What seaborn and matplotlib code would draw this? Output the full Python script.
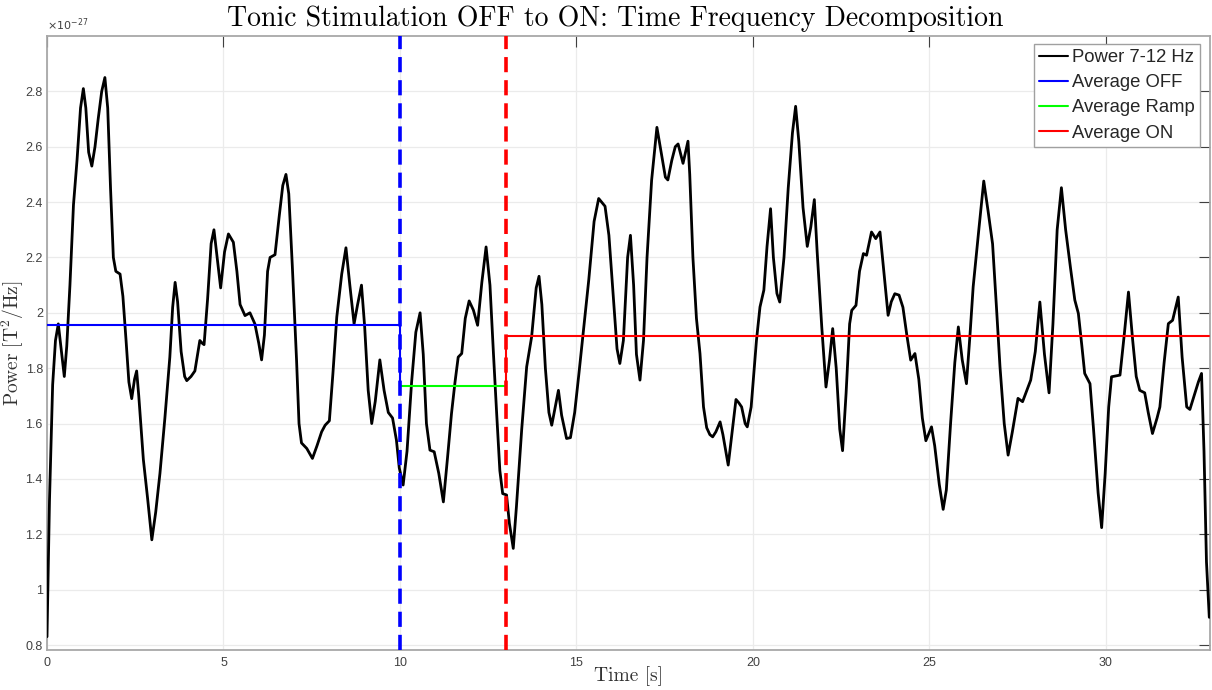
import matplotlib
matplotlib.use("Agg")
import numpy as np
import pandas as pd
import matplotlib.pyplot as plt
import seaborn as sns
from matplotlib.ticker import FuncFormatter

# ---------------- data (power in units of 1e-27 T^2/Hz) ----------------
time_s = [
    0.00, 0.07, 0.16, 0.24, 0.32, 0.40, 0.49, 0.56, 0.65, 0.75, 0.85, 0.95, 1.03, 1.10, 1.18, 1.27,
    1.36, 1.45, 1.55, 1.64, 1.72, 1.80, 1.88, 1.95, 2.07, 2.15, 2.24, 2.32, 2.40, 2.48, 2.54, 2.60,
    2.73, 2.85, 2.97, 3.08, 3.20, 3.34, 3.48, 3.56, 3.63, 3.70, 3.80, 3.90, 3.96, 4.08, 4.19, 4.33,
    4.40, 4.45, 4.55, 4.65, 4.73, 4.82, 4.92, 5.03, 5.14, 5.28, 5.38, 5.47, 5.61, 5.75, 5.89, 6.00,
    6.08, 6.16, 6.25, 6.32, 6.46, 6.58, 6.68, 6.77, 6.85, 6.95, 7.07, 7.14, 7.21, 7.36, 7.52, 7.65,
    7.78, 7.88, 8.00, 8.10, 8.21, 8.35, 8.47, 8.58, 8.70, 8.80, 8.91, 9.00, 9.10, 9.20, 9.30, 9.43,
    9.55, 9.67, 9.79, 9.90, 9.98, 10.09, 10.20, 10.33, 10.45, 10.57, 10.66, 10.75, 10.85, 10.97, 11.10, 11.23,
    11.35, 11.46, 11.56, 11.65, 11.75, 11.85, 11.96, 12.08, 12.20, 12.32, 12.44, 12.55, 12.65, 12.74, 12.83, 12.91,
    13.02, 13.10, 13.21, 13.30, 13.45, 13.59, 13.73, 13.86, 13.94, 14.02, 14.12, 14.22, 14.30, 14.40, 14.49, 14.58,
    14.72, 14.83, 14.95, 15.07, 15.19, 15.35, 15.50, 15.63, 15.81, 15.92, 16.05, 16.15, 16.23, 16.33, 16.45, 16.53,
    16.62, 16.70, 16.80, 16.90, 17.00, 17.13, 17.28, 17.40, 17.52, 17.59, 17.70, 17.80, 17.88, 18.02, 18.16, 18.21,
    18.30, 18.40, 18.50, 18.60, 18.69, 18.78, 18.86, 18.95, 19.07, 19.15, 19.30, 19.42, 19.52, 19.60, 19.68, 19.78,
    19.84, 19.95, 20.10, 20.20, 20.31, 20.40, 20.50, 20.58, 20.68, 20.76, 20.88, 21.00, 21.12, 21.21, 21.30, 21.42,
    21.54, 21.64, 21.74, 21.82, 21.95, 22.07, 22.17, 22.26, 22.36, 22.46, 22.54, 22.64, 22.74, 22.80, 22.92, 23.02,
    23.13, 23.22, 23.36, 23.48, 23.60, 23.70, 23.83, 23.92, 24.02, 24.14, 24.25, 24.36, 24.47, 24.59, 24.70, 24.80,
    24.90, 25.06, 25.15, 25.28, 25.39, 25.48, 25.60, 25.72, 25.82, 25.93, 26.05, 26.15, 26.24, 26.40, 26.54, 26.66,
    26.79, 26.90, 27.00, 27.12, 27.23, 27.35, 27.51, 27.64, 27.76, 27.87, 28.00, 28.13, 28.26, 28.39, 28.50, 28.62,
    28.74, 28.86, 29.00, 29.12, 29.22, 29.32, 29.40, 29.55, 29.65, 29.78, 29.88, 29.98, 30.08, 30.16, 30.40, 30.52,
    30.64, 30.76, 30.86, 30.96, 31.10, 31.20, 31.32, 31.45, 31.53, 31.65, 31.77, 31.89, 32.05, 32.16, 32.29, 32.38,
    32.50, 32.62, 32.71, 32.78, 32.85, 32.93,
]
power = [
    0.83, 1.32, 1.74, 1.90, 1.96, 1.87, 1.77, 1.88, 2.10, 2.39, 2.55, 2.74, 2.81, 2.74, 2.58, 2.53,
    2.60, 2.70, 2.80, 2.85, 2.74, 2.45, 2.20, 2.15, 2.14, 2.06, 1.90, 1.75, 1.69, 1.76, 1.79, 1.70,
    1.47, 1.33, 1.18, 1.28, 1.42, 1.62, 1.84, 2.02, 2.11, 2.04, 1.86, 1.77, 1.755, 1.77, 1.79, 1.90,
    1.89, 1.885, 2.05, 2.25, 2.30, 2.20, 2.09, 2.22, 2.285, 2.255, 2.15, 2.03, 1.99, 2.00, 1.96, 1.89,
    1.83, 1.92, 2.15, 2.20, 2.21, 2.35, 2.46, 2.50, 2.43, 2.17, 1.83, 1.60, 1.53, 1.51, 1.474, 1.52,
    1.57, 1.594, 1.61, 1.78, 1.985, 2.14, 2.235, 2.10, 1.96, 2.03, 2.10, 1.95, 1.72, 1.60, 1.68, 1.83,
    1.72, 1.64, 1.62, 1.54, 1.44, 1.378, 1.50, 1.75, 1.93, 2.00, 1.85, 1.60, 1.504, 1.498, 1.42, 1.317,
    1.48, 1.636, 1.75, 1.84, 1.853, 1.98, 2.043, 2.01, 1.955, 2.11, 2.238, 2.10, 1.85, 1.636, 1.43, 1.347,
    1.342, 1.24, 1.149, 1.30, 1.58, 1.805, 1.913, 2.09, 2.132, 2.03, 1.80, 1.64, 1.594, 1.66, 1.72, 1.63,
    1.546, 1.549, 1.64, 1.78, 1.925, 2.12, 2.33, 2.413, 2.385, 2.28, 2.05, 1.87, 1.817, 1.90, 2.20, 2.28,
    2.10, 1.85, 1.757, 1.90, 2.20, 2.479, 2.67, 2.58, 2.49, 2.48, 2.55, 2.60, 2.61, 2.54, 2.62, 2.50,
    2.20, 1.98, 1.853, 1.66, 1.585, 1.56, 1.552, 1.57, 1.606, 1.56, 1.450, 1.58, 1.687, 1.675, 1.66, 1.60,
    1.588, 1.66, 1.90, 2.021, 2.082, 2.24, 2.376, 2.20, 2.07, 2.039, 2.20, 2.45, 2.65, 2.746, 2.62, 2.38,
    2.24, 2.31, 2.409, 2.22, 1.95, 1.732, 1.83, 1.943, 1.80, 1.58, 1.502, 1.71, 1.96, 2.009, 2.027, 2.15,
    2.214, 2.208, 2.292, 2.268, 2.292, 2.16, 1.991, 2.04, 2.069, 2.064, 2.02, 1.92, 1.829, 1.853, 1.76, 1.62,
    1.538, 1.588, 1.52, 1.38, 1.29, 1.36, 1.60, 1.82, 1.949, 1.83, 1.744, 1.92, 2.094, 2.30, 2.476, 2.37,
    2.249, 2.02, 1.805, 1.60, 1.486, 1.57, 1.691, 1.679, 1.72, 1.757, 1.86, 2.039, 1.85, 1.711, 1.96, 2.30,
    2.452, 2.30, 2.16, 2.046, 1.998, 1.88, 1.781, 1.744, 1.58, 1.35, 1.224, 1.42, 1.66, 1.769, 1.775, 1.92,
    2.075, 1.90, 1.77, 1.72, 1.711, 1.64, 1.564, 1.62, 1.66, 1.82, 1.961, 1.973, 2.057, 1.84, 1.66, 1.651,
    1.70, 1.75, 1.781, 1.50, 1.10, 0.90,
]

stim_on_start = 10.0      # end of OFF period [s]
stim_ramp_end = 13.0      # end of ramp period [s]
avg_off = 1.955
avg_ramp = 1.735
avg_on = 1.918

x_ticks = [0, 5, 10, 15, 20, 25, 30]
y_ticks = [0.8, 1.0, 1.2, 1.4, 1.6, 1.8, 2.0, 2.2, 2.4, 2.6, 2.8]
legend_labels = ["Power 7-12 Hz", "Average OFF", "Average Ramp", "Average ON"]
title_text = "Tonic Stimulation OFF to ON: Time Frequency Decomposition"

# ---------------- style ----------------
sns.set_theme(style="whitegrid")
plt.rcParams["font.family"] = ["Liberation Sans", "DejaVu Sans"]
plt.rcParams["mathtext.fontset"] = "cm"

W, H = 1212, 690
fig = plt.figure(figsize=(W / 100, H / 100), dpi=100)
fig.patch.set_facecolor("white")
ax = fig.add_axes([47 / W, 40 / H, (1210 - 47) / W, (650 - 36) / H])
ax.set_facecolor("white")

t_end = time_s[-1]
df = pd.DataFrame({"t": time_s, "p": power})
sns.lineplot(data=df, x="t", y="p", ax=ax, color="black", lw=2.0,
             label=legend_labels[0], estimator=None, sort=False, zorder=3,
             solid_joinstyle="round", solid_capstyle="round")
sns.lineplot(x=[0.0, stim_on_start, stim_on_start], y=[avg_off, avg_off, avg_ramp], ax=ax,
             color="#0000ff", lw=1.5, label=legend_labels[1], estimator=None, sort=False, zorder=4)
sns.lineplot(x=[stim_on_start, stim_ramp_end], y=[avg_ramp, avg_ramp], ax=ax,
             color="#00ff00", lw=1.5, label=legend_labels[2], estimator=None, sort=False, zorder=4)
sns.lineplot(x=[stim_ramp_end, stim_ramp_end, t_end], y=[avg_ramp, avg_on, avg_on], ax=ax,
             color="#ff0000", lw=1.5, label=legend_labels[3], estimator=None, sort=False, zorder=4)

ax.axvline(stim_on_start, color="#0000ff", lw=2.6, ls=(0, (4.2, 2.2)), zorder=6)
ax.axvline(stim_ramp_end, color="#ff0000", lw=2.6, ls=(0, (4.2, 2.2)), zorder=6)

ax.set_xlim(0, 32.95)
ax.set_ylim(0.782, 3.0)
ax.set_xticks(x_ticks)
ax.set_yticks(y_ticks)
ax.yaxis.set_major_formatter(FuncFormatter(lambda v, p: f"{round(v, 2):g}"))
ax.xaxis.set_major_formatter(FuncFormatter(lambda v, p: f"{v:g}"))

ax.grid(True, color="#ebebeb", lw=0.9)
ax.tick_params(axis="both", direction="in", length=8, width=0.8, color="#404040",
               labelcolor="#404040", labelsize=9, top=True, right=True,
               labeltop=False, labelright=False)
ax.tick_params(axis="x", pad=5)
ax.tick_params(axis="y", pad=3)
for s in ax.spines.values():
    s.set_visible(True)
    s.set_color("#a8a8a8")
    s.set_linewidth(1.3)

ax.set_title(title_text, fontsize=20, pad=7, color="black", fontfamily="cmr10",
             x=(615 - 47) / (1210 - 47))
ax.set_xlabel("Time [s]", fontsize=14, color="#333333", fontfamily="cmr10")
ax.xaxis.set_label_coords(0.5, (650 - 666) / (650 - 36))
ax.set_ylabel(r"$\mathrm{Power\ [T^2/Hz]}$", fontsize=14, color="#333333")
ax.yaxis.set_label_coords((26 - 47) / (1210 - 47), 0.5)

fig.text(47 / W, (690 - 33) / H, r"$\times10^{-27}$", fontsize=8, color="#404040",
         ha="left", va="bottom", math_fontfamily="dejavusans")

leg = ax.legend(loc="upper right", bbox_to_anchor=((1200 - 47) / (1210 - 47), (650 - 44) / (650 - 36)),
                borderaxespad=0, fontsize=13.3, frameon=True, fancybox=False, framealpha=1,
                edgecolor="#a0a0a0", handlelength=1.6, handletextpad=0.2, labelspacing=0.44,
                borderpad=0.28)
leg.get_frame().set_linewidth(1.0)
for line in leg.get_lines():
    line.set_linewidth(1.5)

fig.savefig("out.png", dpi=100, facecolor="white")
